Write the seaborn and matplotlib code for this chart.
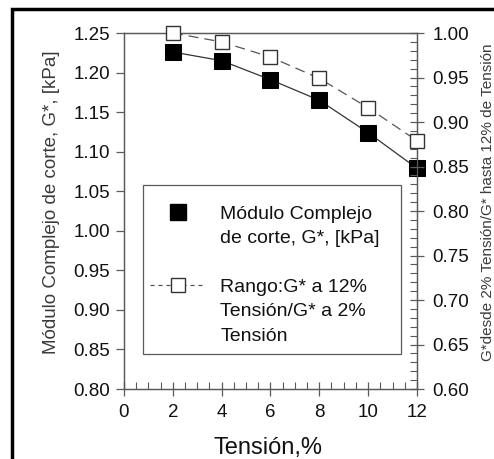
import matplotlib
matplotlib.use('Agg')
import numpy as np
import pandas as pd
import seaborn as sns
import matplotlib.pyplot as plt
from matplotlib.ticker import MultipleLocator, FormatStrFormatter
from matplotlib.lines import Line2D
from matplotlib.patches import Rectangle

# data
tension = [2, 4, 6, 8, 10, 12]
g_star = [1.226, 1.215, 1.191, 1.165, 1.124, 1.079]
ratio = [1.000, 0.990, 0.973, 0.949, 0.916, 0.879]

x_ticks = [0, 2, 4, 6, 8, 10, 12]
left_ticks = [0.80, 0.85, 0.90, 0.95, 1.00, 1.05, 1.10, 1.15, 1.20, 1.25]
right_ticks = [0.60, 0.65, 0.70, 0.75, 0.80, 0.85, 0.90, 0.95, 1.00]

label_g = ['Módulo Complejo', 'de corte, G*, [kPa]']
label_r = ['Rango:G* a 12%', 'Tensión/G* a 2%', 'Tensión']

sns.set_style('white')
plt.rcParams['font.family'] = ['Liberation Sans', 'DejaVu Sans']

spine_c = '#5a5a5a'
text_c = '#111111'
fs = 13.5

fig = plt.figure(figsize=(4.94, 4.59), dpi=100)
ax = fig.add_axes([0.251, 0.1525, 0.593, 0.7756])
ax2 = ax.twinx()

sns.lineplot(x=tension, y=g_star, ax=ax, color='#333333', lw=0.9, marker='s',
             markersize=11, markerfacecolor='black', markeredgecolor='black',
             clip_on=False, zorder=5)
sns.lineplot(x=tension, y=ratio, ax=ax2, color='#555555', lw=0.9, linestyle=(0, (8, 4.8)),
             marker='s', markersize=10.5, markerfacecolor='white', markeredgecolor='#333333',
             markeredgewidth=1.0, clip_on=False, zorder=5)

ax.set_xlim(0, 12)
ax.set_ylim(0.80, 1.25)
ax2.set_ylim(0.60, 1.00)
ax.set_xticks(x_ticks)
ax.set_yticks(left_ticks)
ax2.set_yticks(right_ticks)
ax.xaxis.set_minor_locator(MultipleLocator(0.5))
ax2.yaxis.set_minor_locator(MultipleLocator(0.01))
ax.yaxis.set_major_formatter(FormatStrFormatter('%.2f'))
ax2.yaxis.set_major_formatter(FormatStrFormatter('%.2f'))

ax.tick_params(axis='x', which='major', direction='inout', length=10, width=0.9,
               color=spine_c, labelsize=fs, labelcolor=text_c, pad=6, bottom=True)
ax.tick_params(axis='x', which='minor', direction='in', length=5, width=0.8,
               color=spine_c, bottom=True)
ax.tick_params(axis='y', which='major', direction='out', length=6, width=0.9,
               color=spine_c, labelsize=fs, labelcolor=text_c, pad=4, left=True)
ax2.tick_params(axis='y', which='major', direction='inout', length=10, width=0.9,
                color=spine_c, labelsize=fs, labelcolor=text_c, pad=6, right=True)
ax2.tick_params(axis='y', which='minor', direction='in', length=5, width=0.8,
                color=spine_c, right=True)

for a in (ax, ax2):
    for s in a.spines.values():
        s.set_color(spine_c)
        s.set_linewidth(0.9)

ax.set_xlabel('Tensión,%', fontsize=17, color=text_c)
ax.xaxis.set_label_coords(0.49, -0.134)
ax.set_ylabel('Módulo Complejo de corte, G*, [kPa]', fontsize=13.5, color='#3a3a3a')
ax.yaxis.set_label_coords(-0.218, 0.525)
ax2.set_ylabel('G*desde 2% Tensión/G* hasta 12% de Tensión', fontsize=11, color='#3a3a3a')
ax2.yaxis.set_label_coords(1.218, 0.525)

# legend: one row per text line so the symbol sits on the first line
blank = Line2D([], [], ls='none')
handles = [
    Line2D([], [], ls='none', marker='s', markersize=11, markerfacecolor='black',
           markeredgecolor='black'),
    blank, blank,
    Line2D([], [], color='#555555', lw=0.9, ls=(0, (3.2, 3.2)), marker='s', markersize=10.5,
           markerfacecolor='white', markeredgecolor='#333333'),
    blank, blank,
]
labels = [label_g[0], label_g[1], ' ', label_r[0], label_r[1], label_r[2]]
leg = ax2.legend(handles, labels, loc='upper left', bbox_to_anchor=(150 / 494, 1 - 205 / 459),
                 bbox_transform=fig.transFigure, fontsize=14, frameon=False,
                 borderpad=0, borderaxespad=0, labelspacing=0.35, handlelength=2.9,
                 handletextpad=0.72)
for t in leg.get_texts():
    t.set_color(text_c)
leg.set_zorder(10)

# legend box
ax2.add_patch(Rectangle((0.065, 0.098), 0.88, 0.475, transform=ax2.transAxes, fill=False,
                        edgecolor=spine_c, linewidth=0.9, zorder=9))

# outer frame of the figure (cut at right and bottom)
fig.add_artist(Rectangle((0.0233, -0.05), 1.1, 1.03, transform=fig.transFigure,
                         fill=False, edgecolor='black', linewidth=2.5))

fig.savefig('out.png', dpi=100)
